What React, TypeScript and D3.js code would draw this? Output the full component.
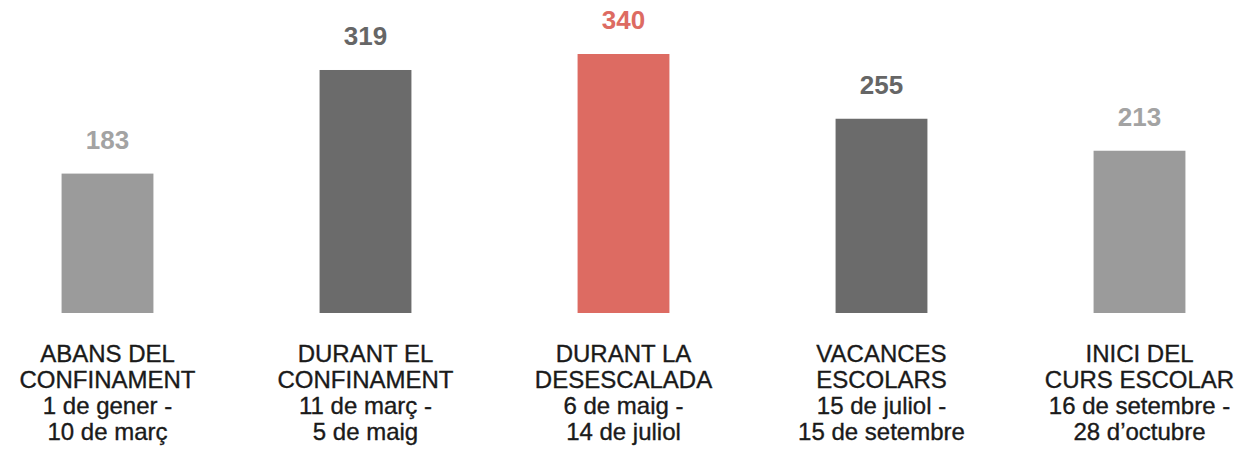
import React, { useEffect, useRef } from 'react';
import * as d3 from 'd3';

const categories = ['abans', 'durant', 'desescalada', 'vacances', 'inici'];
const values = [183, 319, 340, 255, 213];
const labelLines = [
  ['ABANS DEL', 'CONFINAMENT', '1 de gener -', '10 de març'],
  ['DURANT EL', 'CONFINAMENT', '11 de març -', '5 de maig'],
  ['DURANT LA', 'DESESCALADA', '6 de maig -', '14 de juliol'],
  ['VACANCES', 'ESCOLARS', '15 de juliol -', '15 de setembre'],
  ['INICI DEL', 'CURS ESCOLAR', '16 de setembre -', '28 d’octubre'],
];
const barColors = ['#9b9b9b', '#6b6b6b', '#dd6b62', '#6b6b6b', '#9b9b9b'];
const valueColors = ['#a3a3a3', '#666666', '#dd6b62', '#666666', '#a3a3a3'];

export default function App() {
  const svgRef = useRef<SVGSVGElement>(null);

  useEffect(() => {
    if (!svgRef.current) return;
    const svg = d3.select(svgRef.current);
    svg.selectAll('*').remove();

    const x = d3.scaleBand<string>()
      .domain(categories)
      .range([-21.5, 1268.5])
      .paddingInner(0.644)
      .paddingOuter(0.322);

    const y = d3.scaleLinear()
      .domain([0, 340])
      .range([313, 54]);

    const g = svg.append('g');

    g.selectAll('rect')
      .data(values)
      .join('rect')
      .attr('x', (_, i) => x(categories[i])!)
      .attr('y', d => y(d))
      .attr('width', x.bandwidth())
      .attr('height', d => y(0) - y(d))
      .attr('fill', (_, i) => barColors[i]);

    g.selectAll('text.value')
      .data(values)
      .join('text')
      .attr('class', 'value')
      .attr('x', (_, i) => x(categories[i])! + x.bandwidth() / 2)
      .attr('y', d => y(d) - 25)
      .attr('text-anchor', 'middle')
      .attr('font-family', 'Liberation Sans, Arial, sans-serif')
      .attr('font-weight', 'bold')
      .attr('font-size', 26)
      .attr('fill', (_, i) => valueColors[i])
      .text(d => d);

    const labels = g.selectAll('text.cat')
      .data(labelLines)
      .join('text')
      .attr('class', 'cat')
      .attr('text-anchor', 'middle')
      .attr('font-family', 'Liberation Sans, Arial, sans-serif')
      .attr('font-size', 24)
      .attr('fill', '#1a1a1a')
      .attr('stroke', '#1a1a1a')
      .attr('stroke-width', 0.35);

    labels.each(function (lines, i) {
      const cx = x(categories[i])! + x.bandwidth() / 2;
      d3.select(this)
        .selectAll('tspan')
        .data(lines)
        .join('tspan')
        .attr('x', cx)
        .attr('y', (_, j) => 362 + j * 26)
        .text(d => d);
    });
  }, []);

  return (
    <div style={{ position: 'absolute', left: 0, top: 0, background: '#fff' }}>
      <svg ref={svgRef} width={1235} height={455} />
    </div>
  );
}
